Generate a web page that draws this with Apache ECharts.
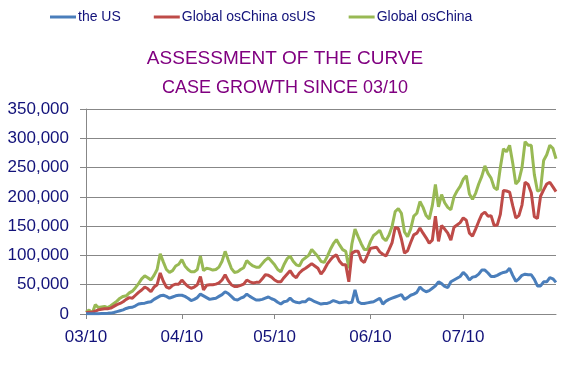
<!DOCTYPE html>
<html>
<head>
<meta charset="utf-8">
<script src="https://cdn.jsdelivr.net/npm/echarts@6/dist/echarts.min.js"></script>
<style>
html,body{margin:0;padding:0;background:#fff;}
#chart{width:580px;height:389px;}
</style>
</head>
<body>
<div id="chart"></div>
<script>
// Daily new cases (thousands), 03/10 .. 08/09
var startDate = '2020-03-10';
var dayCount = 153;
var tickLabelDay = '/10';
var yTicks = [0, 50, 100, 150, 200, 250, 300, 350];

var usCases = [
  0.3, 0.4, 0.4, 0.5, 0.6, 0.8, 1, 1.2, 1.5, 2.5,
  4, 5.5, 7, 9.5, 11, 11.5, 14, 17, 18, 18.5,
  20, 21, 25, 28, 31, 32, 30, 27, 29, 31,
  32, 32, 30, 27, 23, 25, 28, 34, 31, 28,
  25, 26, 27, 30, 33, 38, 35, 30, 25, 24,
  27, 29, 34, 30, 27, 24, 24, 25, 27, 29,
  26, 24, 20, 17, 21, 22, 27, 22, 20, 19,
  21, 21, 26, 24, 21, 19, 17, 18, 18, 20,
  23, 21, 19, 20, 21, 19, 20, 41, 21, 18,
  18, 19, 20, 21, 24, 27, 17, 22, 25, 27,
  29, 31, 33, 25, 28, 32, 34, 37, 46, 41,
  38, 40, 44, 48, 55, 52, 47, 45, 55, 58,
  61, 64, 71, 66, 58, 63, 64, 68, 75, 75,
  70, 64, 64, 66, 69, 71, 72, 78, 66, 56,
  60, 66, 68, 67, 67, 59, 48, 48, 55, 55,
  62, 60, 54
];

var exChinaExUS = [
  2, 3, 3, 5, 7, 8, 9, 9, 10, 13,
  16, 18, 21, 25, 28, 27, 32, 37, 41, 46,
  43, 38, 46, 50, 70, 56, 46, 44, 49, 51,
  51, 58, 52, 47, 44, 46, 50, 64, 41, 49,
  50, 50, 51, 53, 58, 67, 57, 50, 47, 47,
  49, 51, 58, 55, 53, 54, 54, 60, 67, 66,
  63, 58, 55, 55, 62, 68, 74, 66, 62, 70,
  75, 78, 82, 86, 82, 78, 68, 75, 85, 92,
  98, 101, 90, 84, 84, 55, 104, 107, 107, 92,
  88, 100, 112, 113, 114, 106, 102, 99, 110, 122,
  148, 146, 128, 104, 108, 122, 135, 138, 147, 138,
  130, 121, 126, 167, 124, 151, 145, 138, 126, 148,
  152, 156, 164, 160, 138, 133, 145, 158, 170, 174,
  167, 168, 151, 152, 170, 211, 210, 208, 185, 164,
  168, 186, 225, 221, 207, 166, 163, 201, 212, 222,
  225, 217, 209
];

var exChina = [
  3, 7, 1, 16, 11, 12, 13, 11, 14, 18,
  22, 27, 30, 31, 36, 39, 45, 52, 60, 65,
  62, 58, 66, 76, 103, 89, 76, 71, 74, 82,
  85, 93, 82, 76, 72, 72, 76, 99, 74, 78,
  77, 75, 76, 80, 90, 107, 92, 78, 71, 72,
  76, 79, 91, 86, 82, 80, 80, 86, 92, 96,
  90, 84, 76, 72, 84, 94, 99, 90, 84, 82,
  92, 96, 100, 110, 104, 98, 90, 88, 98, 110,
  120, 127, 118, 110, 107, 78, 120, 145, 132, 120,
  110, 110, 124, 134, 138, 143, 130, 125, 135, 150,
  175, 180, 172, 140, 132, 145, 167, 172, 192, 182,
  168, 162, 185, 221, 183, 204, 190, 182, 178, 200,
  210, 218, 230, 236, 205, 196, 206, 222, 235, 253,
  240, 232, 216, 212, 250, 282, 277, 288, 258, 222,
  228, 250, 294, 288, 288, 238, 210, 212, 262, 272,
  288, 283, 265
];

var seriesNames = ['the US', 'Global osChina osUS', 'Global osChina'];
var seriesColors = ['#4A7EBB', '#BE4B48', '#98B954'];

var categories = [];
(function () {
  var d0 = new Date(startDate + 'T00:00:00Z');
  for (var i = 0; i < dayCount; i++) {
    var d = new Date(d0.getTime() + i * 86400000);
    var mm = String(d.getUTCMonth() + 1).padStart(2, '0');
    var dd = String(d.getUTCDate()).padStart(2, '0');
    categories.push(mm + '/' + dd);
  }
})();

var navy = '#12127A';
var gridGray = '#878787';
var isTick = function (idx) { return categories[idx].slice(2) === tickLabelDay; };

var chart = echarts.init(document.getElementById('chart'), null, {renderer: 'canvas'});
chart.setOption({
  animation: false,
  backgroundColor: '#ffffff',
  title: [
    {
      text: 'ASSESSMENT OF THE CURVE',
      left: 280, top: 44, textAlign: 'center',
      textStyle: {fontFamily: "'Liberation Sans', sans-serif", fontSize: 19, fontWeight: 'normal', color: '#800080'}
    },
    {
      text: 'CASE GROWTH SINCE 03/10',
      left: 280, top: 74, textAlign: 'center',
      textStyle: {fontFamily: "'Liberation Sans', sans-serif", fontSize: 18, fontWeight: 'normal', color: '#800080'}
    }
  ],
  legend: {
    top: 10, left: 50, padding: 0,
    itemWidth: 26, itemHeight: 3, itemGap: 33,
    icon: 'rect',
    data: seriesNames,
    textStyle: {fontFamily: "'Liberation Sans', sans-serif", fontSize: 14, color: navy, padding: [0, 0, 0, -3]}
  },
  grid: {left: 86, right: 24, top: 109, bottom: 75, containLabel: false},
  xAxis: {
    type: 'category',
    data: categories,
    boundaryGap: false,
    axisLine: {lineStyle: {color: gridGray, width: 1}},
    axisTick: {show: true, interval: isTick, length: 5, lineStyle: {color: gridGray}},
    axisLabel: {
      interval: isTick, margin: 15,
      fontFamily: "'Liberation Sans', sans-serif", fontSize: 17, color: navy
    },
    splitLine: {show: false}
  },
  yAxis: {
    type: 'value',
    min: yTicks[0], max: yTicks[yTicks.length - 1], interval: yTicks[1] - yTicks[0],
    axisLine: {show: true, lineStyle: {color: gridGray, width: 1}},
    axisTick: {show: true, length: 6, lineStyle: {color: gridGray}},
    axisLabel: {
      margin: 17,
      fontFamily: "'Liberation Sans', sans-serif", fontSize: 17, color: navy,
      formatter: function (v) { return v === 0 ? '0' : v + ',000'; }
    },
    splitLine: {show: true, lineStyle: {color: gridGray, width: 1}}
  },
  series: [
    {name: seriesNames[0], type: 'line', data: usCases, showSymbol: false, symbol: 'none', lineStyle: {width: 3, color: seriesColors[0]}, itemStyle: {color: seriesColors[0]}, z: 4},
    {name: seriesNames[1], type: 'line', data: exChinaExUS, showSymbol: false, symbol: 'none', lineStyle: {width: 3, color: seriesColors[1]}, itemStyle: {color: seriesColors[1]}, z: 3},
    {name: seriesNames[2], type: 'line', data: exChina, showSymbol: false, symbol: 'none', lineStyle: {width: 3, color: seriesColors[2]}, itemStyle: {color: seriesColors[2]}, z: 2}
  ]
});
</script>
</body>
</html>
